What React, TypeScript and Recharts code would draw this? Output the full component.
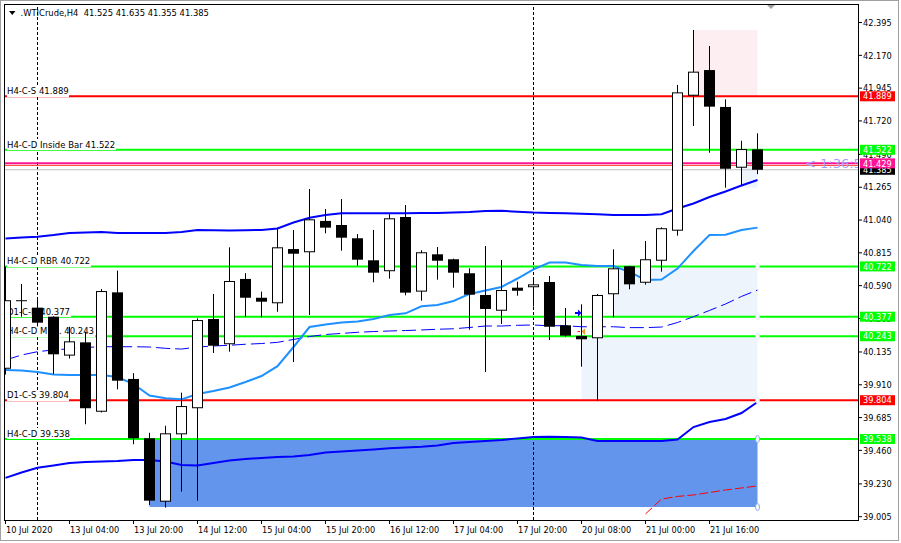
import React from 'react';
import {
  ComposedChart,
  Bar,
  Line,
  XAxis,
  YAxis,
  ReferenceLine,
  ReferenceArea,
  ReferenceDot,
  Customized,
} from 'recharts';

// ---------------- data ----------------
const symbolName = '.WTICrude,H4';
const headerQuote = ['41.525', '41.635', '41.355', '41.385'];

const barTimes = [
  '10 Jul 12:00', '10 Jul 16:00', '12 Jul 20:00', '13 Jul 00:00', '13 Jul 04:00', '13 Jul 08:00',
  '13 Jul 12:00', '13 Jul 16:00', '13 Jul 20:00', '14 Jul 00:00', '14 Jul 04:00', '14 Jul 08:00',
  '14 Jul 12:00', '14 Jul 16:00', '14 Jul 20:00', '15 Jul 00:00', '15 Jul 04:00', '15 Jul 08:00',
  '15 Jul 12:00', '15 Jul 16:00', '15 Jul 20:00', '16 Jul 00:00', '16 Jul 04:00', '16 Jul 08:00',
  '16 Jul 12:00', '16 Jul 16:00', '16 Jul 20:00', '17 Jul 00:00', '17 Jul 04:00', '17 Jul 08:00',
  '17 Jul 12:00', '17 Jul 16:00', '17 Jul 20:00', '19 Jul 20:00', '20 Jul 00:00', '20 Jul 04:00',
  '20 Jul 08:00', '20 Jul 12:00', '20 Jul 16:00', '20 Jul 20:00', '21 Jul 00:00', '21 Jul 04:00',
  '21 Jul 08:00', '21 Jul 12:00', '21 Jul 16:00', '21 Jul 20:00', '22 Jul 00:00', '22 Jul 04:00',
];

const opens = [
  40.02, 40.49, 40.439, 40.377, 40.11, 40.201, 39.725, 40.544, 39.95, 39.543, 39.108, 39.57,
  39.749, 40.361, 40.188, 40.636, 40.507, 40.469, 40.841, 40.819, 41.034, 41.006, 40.915, 40.764,
  40.689, 41.061, 40.549, 40.805, 40.771, 40.675, 40.526, 40.418, 40.576, 40.579, 40.615, 40.318,
  40.245, 40.229, 40.531, 40.723, 40.61, 40.761, 40.967, 41.893, 42.069, 41.816, 41.399, 41.525,
];
const highs = [
  40.72, 40.601, 40.51, 40.38, 40.308, 40.274, 40.567, 40.693, 39.99, 39.581, 39.629, 39.856,
  40.366, 40.533, 40.853, 40.675, 40.549, 40.988, 40.972, 41.253, 41.116, 41.184, 40.944, 40.972,
  41.08, 41.143, 40.833, 40.855, 40.775, 40.709, 40.862, 40.766, 40.617, 40.636, 40.656, 40.437,
  40.462, 40.533, 40.839, 40.725, 40.896, 40.99, 41.967, 42.344, 42.234, 41.868, 41.584, 41.635,
];
const lows = [
  39.98, 40.377, 40.31, 39.984, 40.09, 39.639, 39.72, 39.879, 39.502, 39.085, 39.067, 39.177,
  39.115, 40.128, 40.137, 40.377, 40.373, 40.411, 40.066, 40.389, 40.949, 40.83, 40.727, 40.613,
  40.638, 40.524, 40.487, 40.631, 40.576, 40.288, 39.998, 40.327, 40.521, 40.446, 40.217, 40.24,
  40.034, 39.801, 40.373, 40.565, 40.597, 40.686, 40.933, 41.685, 41.502, 41.262, 41.28, 41.355,
];
const closes = [
  40.49, 40.487, 40.336, 40.119, 40.208, 39.749, 40.553, 39.938, 39.543, 39.115, 39.577, 39.764,
  40.354, 40.178, 40.622, 40.507, 40.48, 40.853, 40.809, 41.045, 40.988, 40.919, 40.768, 40.679,
  41.052, 40.542, 40.819, 40.761, 40.679, 40.528, 40.43, 40.56, 40.555, 40.599, 40.308, 40.247,
  40.222, 40.526, 40.709, 40.599, 40.771, 40.984, 41.916, 42.058, 41.818, 41.392, 41.527, 41.385,
];

const upperBand = [
  40.913, 40.92, 40.926, 40.937, 40.951, 40.955, 40.958, 40.951, 40.951, 40.951, 40.951, 40.958,
  40.972, 40.97, 40.968, 40.97, 40.972, 40.982, 41.023, 41.056, 41.075, 41.086, 41.086, 41.086,
  41.086, 41.086, 41.088, 41.088, 41.091, 41.095, 41.102, 41.104, 41.097, 41.091, 41.088, 41.086,
  41.084, 41.08, 41.075, 41.075, 41.075, 41.08, 41.119, 41.154, 41.198, 41.236, 41.277, 41.315,
];
const midBand = [
  40.011, 40.008, 39.998, 39.98, 39.977, 39.977, 39.977, 39.963, 39.915, 39.836, 39.817, 39.81,
  39.847, 39.867, 39.891, 39.929, 39.97, 40.038, 40.169, 40.306, 40.324, 40.337, 40.344, 40.361,
  40.389, 40.4, 40.448, 40.457, 40.485, 40.533, 40.557, 40.581, 40.639, 40.702, 40.748, 40.748,
  40.732, 40.725, 40.725, 40.684, 40.629, 40.632, 40.707, 40.828, 40.938, 40.94, 40.972, 40.988,
];
const lowerBand = [
  39.271, 39.308, 39.341, 39.356, 39.373, 39.38, 39.384, 39.387, 39.394, 39.394, 39.384, 39.36,
  39.356, 39.373, 39.391, 39.401, 39.408, 39.415, 39.418, 39.428, 39.445, 39.452, 39.459, 39.466,
  39.474, 39.48, 39.485, 39.493, 39.511, 39.518, 39.524, 39.531, 39.542, 39.552, 39.554, 39.552,
  39.548, 39.525, 39.525, 39.525, 39.525, 39.525, 39.535, 39.62, 39.655, 39.675, 39.716, 39.792,
];
const dashedBand = [
  40.08, 40.114, 40.137, 40.149, 40.157, 40.166, 40.171, 40.171, 40.171, 40.169, 40.16, 40.155,
  40.169, 40.176, 40.181, 40.188, 40.193, 40.201, 40.221, 40.241, 40.255, 40.262, 40.27, 40.275,
  40.279, 40.282, 40.286, 40.291, 40.294, 40.303, 40.313, 40.313, 40.318, 40.32, 40.315, 40.315,
  40.308, 40.308, 40.308, 40.302, 40.302, 40.306, 40.337, 40.377, 40.42, 40.464, 40.516, 40.56,
];
const trailLine = [
  null, null, null, null, null, null, null, null, null, null, null, null,
  null, null, null, null, null, null, null, null, null, null, null, null,
  null, null, null, null, null, null, null, null, null, null, null, null,
  null, null, null, null, 39.024, 39.126, 39.144, 39.154, 39.171, 39.188, 39.202, 39.216,
];

const axisLabelTimes = [
  '10 Jul 12:00', '13 Jul 04:00', '13 Jul 20:00', '14 Jul 12:00', '15 Jul 04:00', '15 Jul 20:00',
  '16 Jul 12:00', '17 Jul 04:00', '17 Jul 20:00', '20 Jul 08:00', '21 Jul 00:00', '21 Jul 16:00',
];
const axisLabelTexts = [
  '10 Jul 2020', '13 Jul 04:00', '13 Jul 20:00', '14 Jul 12:00', '15 Jul 04:00', '15 Jul 20:00',
  '16 Jul 12:00', '17 Jul 04:00', '17 Jul 20:00', '20 Jul 08:00', '21 Jul 00:00', '21 Jul 16:00',
];
const priceTicks = [
  39.005, 39.23, 39.46, 39.685, 39.91, 40.135, 40.365, 40.59, 40.815, 41.04, 41.265, 41.49,
  41.72, 41.945, 42.17, 42.395,
];
const priceDomain = [38.9823, 42.5153];

const levelPrices = [41.889, 41.522, 40.722, 40.377, 40.243, 39.804, 39.538];
const levelNames = ['H4-C-S', 'H4-C-D Inside Bar', 'H4-C-D RBR', 'D1-C-D', 'H4-C-D MBR.', 'D1-C-S', 'H4-C-D'];
const levelKinds = ['supply', 'demand', 'demand', 'demand', 'demand', 'supply', 'demand'];

const bidPrice = 41.385;
const askPrice = 41.415;
const alertPrice = 41.429;
const countdownText = '< 1:36:55';

const zoneStarts = ['14 Jul 00:00', '21 Jul 12:00', '20 Jul 16:00', '20 Jul 08:00', '22 Jul 00:00'];
const zoneEnds = ['22 Jul 04:00', '22 Jul 04:00', '22 Jul 04:00', '22 Jul 04:00', '22 Jul 04:00'];
const zoneTops = [39.538, 42.344, 40.722, 40.243, 41.522];
const zoneBottoms = [39.071, 41.889, 40.377, 39.804, 41.262];
const zoneKinds = ['strong', 'supply', 'demand', 'demand', 'demand'];

const separatorTimes = ['12 Jul 20:00', '19 Jul 20:00'];
const strongHandlePrices = [39.538, 39.071];
const lightHandlePrices = [39.804, 40.722, 40.377, 40.243];
const tradeTime = '20 Jul 08:00';
const tradeOpenPrice = 40.402;
const tradeClosePrice = 40.275;

// ---------------- styles ----------------
const FONT = "'DejaVu Sans', 'Liberation Sans', sans-serif";
const LEVEL_COLOR: Record<string, string> = { supply: '#ff0000', demand: '#00ff00' };
const ZONE_FILL: Record<string, string> = { strong: '#6495ed', supply: '#fdeef2', demand: '#edf4fc' };
const X_MIN = -1 / 32;
const X_MAX = X_MIN + 853 / 16;

const idx = (t: string) => barTimes.indexOf(t);

const chartData = barTimes.map((t, i) => ({
  i,
  time: t,
  open: opens[i],
  high: highs[i],
  low: lows[i],
  close: closes[i],
  range: [lows[i], highs[i]],
  upper: upperBand[i],
  mid: midBand[i],
  lower: lowerBand[i],
  dashed: dashedBand[i],
  trail: trailLine[i],
}));

const tickIdx = axisLabelTimes.map(idx);
const tickText: Record<number, string> = {};
tickIdx.forEach((k, j) => {
  tickText[k] = axisLabelTexts[j];
});

// price boxes on the right scale (drawn by a second axis so they sit above the tick labels)
const boxPrices = [bidPrice, alertPrice, ...levelPrices];
const boxColors: Record<string, string> = {};
boxColors[bidPrice.toFixed(3)] = '#000000';
boxColors[alertPrice.toFixed(3)] = '#ff1493';
levelPrices.forEach((p, j) => {
  boxColors[p.toFixed(3)] = LEVEL_COLOR[levelKinds[j]];
});

// ---------------- shapes ----------------
const Candle = (props: any) => {
  const { x, y, width, height, payload } = props;
  if (!payload || x == null || y == null) return null;
  let top = y;
  let h = height;
  if (h < 0) {
    top = y + h;
    h = -h;
  }
  const { open, close, high, low } = payload;
  const k = high > low ? h / (high - low) : 0;
  const py = (v: number) => top + (high - v) * k;
  const c = Math.floor(x + width / 2);
  const bTop = py(Math.max(open, close));
  const bBot = py(Math.min(open, close));
  const bh = Math.max(bBot - bTop, 1);
  const bull = close > open;
  return (
    <g>
      <rect x={c} y={top} width={1} height={h} fill="#000" />
      <rect x={c - 5} y={bTop} width={11} height={bh} fill="#000" />
      {bull && bh > 2 ? <rect x={c - 4} y={bTop + 1} width={9} height={bh - 2} fill="#fff" /> : null}
    </g>
  );
};

const XTick = (props: any) => {
  const { x, y, payload } = props;
  const label = tickText[payload.value];
  return (
    <g>
      <line x1={x} x2={x} y1={y} y2={y + 4} stroke="#000" strokeWidth={1} />
      <text x={x + 0.5} y={y + 12.5} fontFamily={FONT} fontSize={8.2} fill="#000">
        {label}
      </text>
    </g>
  );
};

const YTick = (props: any) => {
  const { x, y, payload } = props;
  return (
    <g>
      <line x1={x} x2={x + 4} y1={y} y2={y} stroke="#000" strokeWidth={1} />
      <text x={x + 5} y={y + 3.2} fontFamily={FONT} fontSize={8.2} fill="#000">
        {Number(payload.value).toFixed(3)}
      </text>
    </g>
  );
};

// the box axis sits 42px to the right of the price axis
const BoxTick = (props: any) => {
  const { x, y, payload } = props;
  const key = Number(payload.value).toFixed(3);
  const bg = boxColors[key] || '#000';
  return (
    <g>
      <rect x={x - 40} y={y - 5} width={35} height={10} fill={bg} />
      <text x={x - 37} y={y + 3.2} fontFamily={FONT} fontSize={8.2} fill="#fff">
        {key}
      </text>
    </g>
  );
};

const makeLevelLabel = (text: string, id: number) => (p: any) => (
  <g>
    <defs>
      <filter id={`lvlbg${id}`} x="0" y="0" width="1" height="1">
        <feFlood floodColor="#ffffff" result="bg" />
        <feComposite in="SourceGraphic" in2="bg" operator="over" />
      </filter>
    </defs>
    <text x={p.cx + 1.5} y={p.cy - 2} fontFamily={FONT} fontSize={8.5} fill="#fff" filter={`url(#lvlbg${id})`}>
      {text}
    </text>
    <text x={p.cx + 1.5} y={p.cy - 2} fontFamily={FONT} fontSize={8.5} fill="#000">
      {text}
    </text>
  </g>
);

const CountdownShape = (p: any) => (
  <g>
    <defs>
      <clipPath id="cdclip">
        <rect x={p.cx - 120} y={p.cy - 20} width={120} height={40} />
      </clipPath>
    </defs>
    <text x={p.cx - 53} y={p.cy + 5} fontFamily={FONT} fontSize={13} fill="#a0a0fa" clipPath="url(#cdclip)">
      {countdownText}
    </text>
  </g>
);

const BuyArrow = (p: any) => (
  <path d={`M${p.cx - 6.5},${p.cy - 1} h3 v-2.5 l3.5,3.5 l-3.5,3.5 v-2.5 h-3 z`} fill="#0000ff" />
);

const CloseMark = (p: any) => (
  <g>
    <line x1={p.cx - 4} x2={p.cx - 1.5} y1={p.cy} y2={p.cy} stroke="#ff0000" strokeWidth={1} />
    <polygon
      points={`${p.cx + 0.2},${p.cy} ${p.cx + 3.6},${p.cy - 3.4} ${p.cx + 3.6},${p.cy + 3.4}`}
      fill="#e0a020"
    />
  </g>
);

const StrongHandle = (p: any) => (
  <ellipse cx={p.cx} cy={p.cy} rx={2} ry={3.5} fill="#ffffff" stroke="#86a9ee" strokeWidth={1} />
);
const LightHandle = (p: any) => (
  <ellipse cx={p.cx} cy={p.cy} rx={1.8} ry={3.2} fill="#ffffff" stroke="#dfe8f6" strokeWidth={1} />
);

const Frame = () => (
  <g>
    <rect x={0.5} y={0.5} width={898} height={540} fill="none" stroke="#a0a0a0" />
    <line x1={4} x2={859} y1={4.5} y2={4.5} stroke="#000" />
    <line x1={4.5} x2={4.5} y1={4} y2={521} stroke="#000" />
    <line x1={858.5} x2={858.5} y1={4} y2={521} stroke="#000" />
    <line x1={4} x2={859} y1={520.5} y2={520.5} stroke="#000" />
    <polygon points="767,5 775,5 771,9" fill="#a0a0a0" />
    <polygon points="9,11 15.5,11 12.25,15" fill="#000" />
    <text x={20.5} y={16} fontFamily={FONT} fontSize={8.4} fill="#000" style={{ whiteSpace: 'pre' }}>
      {`${symbolName}  ${headerQuote.join(' ')}`}
    </text>
  </g>
);

export default function App() {
  const last = barTimes.length - 1;
  return (
    <div style={{ position: 'absolute', left: 0, top: 0, width: 901, height: 543, background: '#fff' }}>
      <ComposedChart width={901} height={543} data={chartData} margin={{ top: 5, left: 5, right: 0, bottom: 0 }}>
        <Customized component={Frame} />

        {zoneStarts.map((s, j) => (
          <ReferenceArea
            key={`z${j}`}
            x1={idx(s)}
            x2={idx(zoneEnds[j])}
            y1={zoneBottoms[j]}
            y2={zoneTops[j]}
            fill={ZONE_FILL[zoneKinds[j]]}
            fillOpacity={1}
            stroke="none"
            zIndex={10}
          />
        ))}

        {separatorTimes.map((t, j) => (
          <ReferenceLine key={`s${j}`} x={idx(t)} stroke="#000" strokeWidth={1} strokeDasharray="3 2" zIndex={19} />
        ))}

        <ReferenceLine y={bidPrice} stroke="#c0c0c0" strokeWidth={1} zIndex={20} />
        <ReferenceLine y={askPrice} stroke="#ff3c28" strokeWidth={1} zIndex={20} />
        <ReferenceLine y={alertPrice} stroke="#ff1493" strokeWidth={2} zIndex={21} />
        {levelPrices.map((p, j) => (
          <ReferenceLine key={`l${j}`} y={p} stroke={LEVEL_COLOR[levelKinds[j]]} strokeWidth={2} zIndex={22} />
        ))}
        {levelPrices.map((p, j) => (
          <ReferenceDot
            key={`ll${j}`}
            x={0}
            y={p}
            r={1}
            ifOverflow="visible"
            shape={makeLevelLabel(`${levelNames[j]} ${p.toFixed(3)}`, j)}
            zIndex={30}
          />
        ))}

        <Line dataKey="trail" stroke="#ff0000" strokeWidth={1} strokeDasharray="9 3" dot={false} activeDot={false} isAnimationActive={false} zIndex={40} />
        <Line dataKey="dashed" stroke="#0000ff" strokeWidth={1} strokeDasharray="14 5" dot={false} activeDot={false} isAnimationActive={false} zIndex={41} />
        <Line dataKey="mid" stroke="#1e90ff" strokeWidth={2} dot={false} activeDot={false} isAnimationActive={false} zIndex={42} />
        <Line dataKey="lower" stroke="#0000ff" strokeWidth={2} dot={false} activeDot={false} isAnimationActive={false} zIndex={43} />
        <Line dataKey="upper" stroke="#0000ff" strokeWidth={2} dot={false} activeDot={false} isAnimationActive={false} zIndex={44} />

        <Bar dataKey="range" barSize={11} shape={Candle} isAnimationActive={false} zIndex={50} />

        <ReferenceDot x={idx(tradeTime)} y={tradeOpenPrice} r={1} ifOverflow="visible" shape={BuyArrow} zIndex={60} />
        <ReferenceDot x={idx(tradeTime)} y={tradeClosePrice} r={1} ifOverflow="visible" shape={CloseMark} zIndex={60} />
        {strongHandlePrices.map((p, j) => (
          <ReferenceDot key={`hs${j}`} x={last} y={p} r={1} ifOverflow="visible" shape={StrongHandle} zIndex={70} />
        ))}
        {lightHandlePrices.map((p, j) => (
          <ReferenceDot key={`hl${j}`} x={last} y={p} r={1} ifOverflow="visible" shape={LightHandle} zIndex={70} />
        ))}
        <ReferenceDot x={X_MAX} y={alertPrice} r={1} ifOverflow="visible" shape={CountdownShape} zIndex={80} />

        <XAxis
          type="number"
          dataKey="i"
          domain={[X_MIN, X_MAX]}
          allowDataOverflow
          ticks={tickIdx}
          interval={0}
          height={23}
          tickSize={0}
          tickMargin={0}
          axisLine={false}
          tickLine={false}
          tick={(p: any) => <XTick {...p} />}
        />
        <YAxis
          orientation="right"
          type="number"
          domain={priceDomain}
          allowDataOverflow
          ticks={priceTicks}
          interval={0}
          width={42}
          tickSize={0}
          tickMargin={0}
          axisLine={false}
          tickLine={false}
          tick={(p: any) => <YTick {...p} />}
        />
        <YAxis
          yAxisId="boxes"
          orientation="right"
          type="number"
          domain={priceDomain}
          allowDataOverflow
          ticks={boxPrices}
          interval={0}
          width={1}
          tickSize={0}
          tickMargin={0}
          axisLine={false}
          tickLine={false}
          tick={(p: any) => <BoxTick {...p} />}
        />
      </ComposedChart>
    </div>
  );
}
